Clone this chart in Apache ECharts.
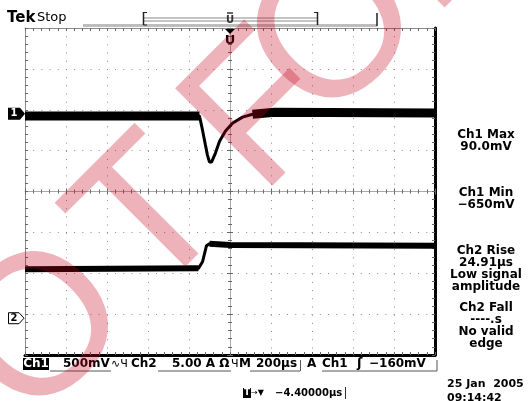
<!DOCTYPE html>
<html><head><meta charset="utf-8">
<script src="https://cdn.jsdelivr.net/npm/echarts@6/dist/echarts.min.js"></script>
<style>html,body{margin:0;padding:0;background:#fff}#c{width:530px;height:401px}</style>
</head><body><div id="c"></div>
<script>
// ---- data (time in µs, trigger at 0) ----
const ch1Time = [-1000, -149, -134, -120, -110, -100, -90, -71, -51, -22, 12, 61, 110, 217, 1000];
const ch1mV   = [-25, -25, -200, -380, -505, -590, -590, -480, -335, -210, -115, -40, -5, 20, 10];
const ch2Time = [-1000, -154, -134, -115, -100, 0, 1000];
const ch2Amp  = [6.0, 6.1, 6.9, 8.85, 9.1, 8.95, 8.85];
// vertical settings: per-division scale and ground marker position (div from centre)
const ch1Scale = 500, ch1Ground = 1.9;   // mV/div
const ch2Scale = 5,   ch2Ground = -3.1;  // A/div
const timeRange = [-1000, 1000], timeStep = 200;   // 200 µs/div
const divRange = [-4, 4];
// texts
const measureText = [
  ['Ch1 Max', 135], ['90.0mV', 147],
  ['Ch1 Min', 193], ['\u2212650mV', 205],
  ['Ch2 Rise', 251], ['24.91\u00b5s', 263], ['Low signal', 275], ['amplitude', 287],
  ['Ch2 Fall', 308], ['----.s', 320], ['No valid', 332], ['edge', 344]
];
const watermarkLetters = [['O', 46, 333], ['T', 153, 221], ['F', 265, 115], ['O', 339, 35], ['R', 445, -71]];

const ch1Pts = ch1Time.map((t, i) => [t, ch1Ground + ch1mV[i] / ch1Scale]);
const ch2Pts = ch2Time.map((t, i) => [t, ch2Ground + ch2Amp[i] / ch2Scale]);

const chart = echarts.init(document.getElementById('c'), null, {renderer: 'canvas', width: 530, height: 401});
const FONT = '"DejaVu Sans", sans-serif';
const grey = '#8a8a8a';
const dots = [1, 7.19];

function xAx(o) {
  return Object.assign({type: 'value', min: timeRange[0], max: timeRange[1], interval: timeStep,
    axisLabel: {show: false}, splitLine: {show: false}}, o);
}
function yAx(o) {
  return Object.assign({type: 'value', min: divRange[0], max: divRange[1], interval: 1,
    axisLabel: {show: false}, splitLine: {show: false}}, o);
}
const tick = (inside, len, col) => ({show: true, inside: inside, length: len, lineStyle: {color: col || '#666', width: 1}});
const minor = (len, col) => ({show: true, splitNumber: 5, length: len, lineStyle: {color: col || '#666', width: 1}});

const option = {
  animation: false,
  backgroundColor: '#fff',
  grid: {left: 25, top: 28, width: 410, height: 327, outerBoundsMode: 'none', containLabel: false},
  xAxis: [
    xAx({position: 'bottom', axisLine: {show: true, onZero: false, lineStyle: {color: '#000', width: 3}},
      axisTick: tick(true, 3), minorTick: minor(3),
      splitLine: {show: true, lineStyle: {color: grey, width: 1, type: dots}}}),
    xAx({position: 'top', axisLine: {show: true, onZero: false, lineStyle: {color: grey, width: 1}},
      axisTick: tick(true, 3), minorTick: minor(3)}),
    xAx({position: 'bottom', axisLine: {show: true, onZero: true, onZeroAxisIndex: 0, lineStyle: {color: '#aaa', width: 1}},
      axisTick: tick(true, 3), minorTick: minor(2)}),
    xAx({position: 'bottom', axisLine: {show: false, onZero: true, onZeroAxisIndex: 0},
      axisTick: tick(false, 3), minorTick: minor(2)})
  ],
  yAxis: [
    yAx({position: 'left', axisLine: {show: true, onZero: false, lineStyle: {color: grey, width: 1}},
      axisTick: tick(true, 3), minorTick: minor(3),
      splitLine: {show: true, lineStyle: {color: grey, width: 1, type: dots}}}),
    yAx({position: 'right', axisLine: {show: true, onZero: false, lineStyle: {color: '#000', width: 3}},
      axisTick: tick(true, 3), minorTick: minor(3)}),
    yAx({position: 'left', axisLine: {show: true, onZero: true, onZeroAxisIndex: 0, lineStyle: {color: '#aaa', width: 1}},
      axisTick: tick(true, 3), minorTick: minor(2)}),
    yAx({position: 'left', axisLine: {show: false, onZero: true, onZeroAxisIndex: 0},
      axisTick: tick(false, 3), minorTick: minor(2)})
  ],
  series: [
    {name: 'Ch1', type: 'line', data: ch1Pts, symbol: 'none', lineStyle: {color: '#000', width: 3}, z: 5},
    {name: 'Ch1 noise pre', type: 'line', data: ch1Pts.slice(0, 2), symbol: 'none', lineStyle: {color: '#000', width: 9}, z: 5},
    {name: 'Ch1 noise post', type: 'line', data: ch1Pts.slice(12), symbol: 'none', lineStyle: {color: '#000', width: 9}, z: 5},
    {name: 'Ch2', type: 'line', data: ch2Pts, symbol: 'none', lineStyle: {color: '#000', width: 3}, z: 5},
    {name: 'Ch2 noise pre', type: 'line', data: ch2Pts.slice(0, 2), symbol: 'none', lineStyle: {color: '#000', width: 6}, z: 5},
    {name: 'Ch2 noise post', type: 'line', data: ch2Pts.slice(4), symbol: 'none', lineStyle: {color: '#000', width: 6}, z: 5}
  ]
};
chart.setOption(option);

const g1 = chart.convertToPixel({xAxisIndex: 0, yAxisIndex: 0}, [timeRange[0], ch1Ground]);
const g2 = chart.convertToPixel({xAxisIndex: 0, yAxisIndex: 0}, [timeRange[0], ch2Ground]);
const trig = chart.convertToPixel({xAxisIndex: 0, yAxisIndex: 0}, [0, divRange[1]]);
const tx = trig[0], ty = trig[1];

const txt = (s, x, y, o) => ({type: 'text', x: x, y: y, silent: true, z: 10,
  style: Object.assign({text: s, font: 'bold 12px ' + FONT, fill: '#000', textAlign: 'left', textVerticalAlign: 'middle'}, o || {})});
const line = (x1, y1, x2, y2, col, w) => ({type: 'line', silent: true, z: 10, shape: {x1, y1, x2, y2}, style: {stroke: col || '#000', lineWidth: w || 1}});

const graphics = [];
// header
graphics.push(txt('Tek', 7, 18, {font: 'bold 15px ' + FONT}));
graphics.push(txt('Stop', 37, 18, {font: '13px ' + FONT}));
// record bar
graphics.push({type: 'rect', silent: true, z: 9, shape: {x: 83, y: 24, width: 294, height: 3}, style: {fill: '#bdbdbd'}});
graphics.push(line(143.5, 18, 318, 18, '#888'), line(143.5, 21, 318, 21, '#888'));
graphics.push(line(143.5, 12, 143.5, 25, '#222', 1.5), line(143.5, 12.5, 147, 12.5, '#222'), line(143.5, 25, 147, 25, '#222'));
graphics.push(line(317.5, 12, 317.5, 25, '#222', 1.5), line(314, 12.5, 317.5, 12.5, '#222'));
graphics.push(line(377, 13, 377, 26, '#222', 1.5));
graphics.push(txt('U', tx, 20, {font: 'bold 10px ' + FONT, textAlign: 'center', fill: '#333'}));
graphics.push(line(tx - 3, 13, tx + 3, 13, '#333', 1.5));
// trigger position marker under top edge
graphics.push({type: 'polygon', silent: true, z: 10, shape: {points: [[tx - 5, ty + 1], [tx + 5, ty + 1], [tx, ty + 6]]}, style: {fill: '#000'}});
graphics.push(txt('U', tx, ty + 13, {font: 'bold 13px ' + FONT, textAlign: 'center'}));
// channel ground markers
const y1 = g1[1], y2 = g2[1];
graphics.push({type: 'polygon', silent: true, z: 10, shape: {points: [[8, y1 - 6], [20, y1 - 6], [25, y1], [20, y1 + 6], [8, y1 + 6]]}, style: {fill: '#000'}});
graphics.push(txt('1', 14, y1, {font: 'bold 10px ' + FONT, textAlign: 'center', fill: '#fff'}));
graphics.push({type: 'polygon', silent: true, z: 10, shape: {points: [[8.5, y2 - 5.5], [19, y2 - 5.5], [24, y2], [19, y2 + 5.5], [8.5, y2 + 5.5]]}, style: {fill: '#fff', stroke: '#000', lineWidth: 1}});
graphics.push(txt('2', 14, y2, {font: 'bold 10px ' + FONT, textAlign: 'center'}));
// measurements
measureText.forEach(([s, y]) => graphics.push(txt(s, 486, y, {textAlign: 'center'})));
// status bar
const sy = 364;
graphics.push({type: 'rect', silent: true, z: 10, shape: {x: 23, y: 358, width: 26, height: 12}, style: {fill: '#000'}});
graphics.push(txt('Ch1', 36, sy, {textAlign: 'center', fill: '#fff'}));
graphics.push(txt('500mV', 63, sy));
graphics.push(txt('\u223f\u0427', 111, sy, {font: '11px ' + FONT}));
graphics.push(txt('Ch2', 131, sy));
graphics.push(txt('5.00 A \u03a9', 172, sy));
graphics.push(txt('\u0427', 231, sy, {font: '11px ' + FONT}));
graphics.push(txt('M', 239, sy));
graphics.push(txt('200\u00b5s', 256, sy));
graphics.push(txt('A', 307, sy));
graphics.push(txt('Ch1', 322, sy));
graphics.push(txt('\u0283', 357, sy, {font: 'bold 13px ' + FONT}));
graphics.push(txt('\u2212160mV', 369, sy));
graphics.push(line(50, 371, 111, 371, '#555'), line(158, 371, 231, 371, '#555'), line(250, 371, 300, 371, '#555'), line(322, 371, 437, 371, '#555'));
graphics.push(line(300.5, 360, 300.5, 371, '#555'), line(437, 360, 437, 371, '#555'));
// trigger offset / date
graphics.push({type: 'rect', silent: true, z: 10, shape: {x: 243, y: 388, width: 8, height: 10}, style: {fill: '#000'}});
graphics.push(txt('T', 247, 393, {font: 'bold 9px ' + FONT, textAlign: 'center', fill: '#fff'}));
graphics.push(txt('\u2192\u25bc', 251, 393, {font: '8px ' + FONT}));
graphics.push(txt('\u22124.40000\u00b5s', 275, 393, {font: 'bold 10px ' + FONT}));
graphics.push(line(345.5, 387, 345.5, 399, '#333'));
graphics.push(txt('25 Jan  2005', 447, 384, {font: 'bold 11px ' + FONT}));
graphics.push(txt('09:14:42', 447, 398, {font: 'bold 11px ' + FONT}));
// watermark
watermarkLetters.forEach(([ch, x, y]) => graphics.push({type: 'text', x: x, y: y, rotation: Math.PI / 4, silent: true, z: 100,
  style: {text: ch, font: '200px "Liberation Sans", sans-serif', fill: 'rgba(200,0,30,0.30)', textAlign: 'center', textVerticalAlign: 'middle'}}));

chart.setOption({graphic: graphics});
</script>
</body></html>
